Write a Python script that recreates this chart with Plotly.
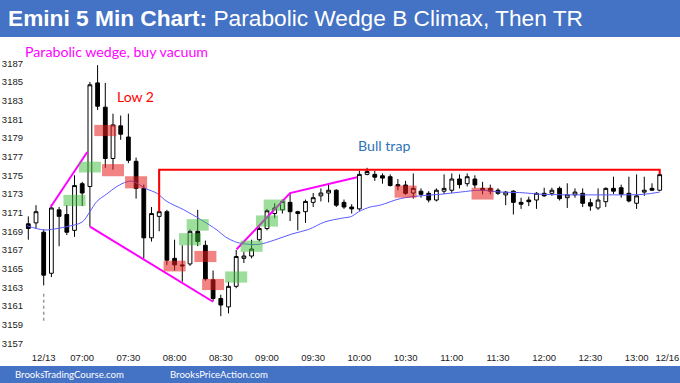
import plotly.graph_objects as go

# ---- data (bar index 0 = 06:35 of 12/13; -2,-1 are the prior session's last bars)
first_bar = -2
opens  = [3169.8, 3169.9, 3168.9, 3164.5, 3171.3, 3170.8, 3169.1, 3174.1, 3173.8, 3184.9,
          3182.3, 3176.8, 3180.3, 3179.1, 3176.5, 3173.6, 3168.3, 3170.6, 3171.1, 3166.1,
          3165.4, 3165.5, 3169.0, 3167.5, 3163.8, 3161.8, 3160.9, 3163.1, 3166.1, 3166.35,
          3168.1, 3169.3, 3170.9, 3171.3, 3172.1, 3171.1, 3171.1, 3172.1, 3172.8, 3173.1,
          3173.4, 3172.1, 3171.6, 3171.4, 3175.1, 3175.1, 3174.95, 3174.85, 3174.0, 3173.96,
          3173.1, 3173.3, 3173.07, 3172.35, 3173.3, 3173.4, 3174.6, 3174.1, 3174.6, 3173.6,
          3173.6, 3173.4, 3172.9, 3173.3, 3172.1, 3172.35, 3172.35, 3173.07, 3173.07, 3173.6,
          3172.6, 3172.9, 3173.07, 3172.06, 3171.5, 3172.17, 3173.6, 3173.67, 3173.07, 3172.0,
          3173.2, 3173.6, 3173.4]
highs  = [3170.6, 3171.8, 3169.2, 3171.9, 3171.6, 3171.8, 3175.0, 3174.3, 3185.0, 3186.8,
          3184.9, 3181.6, 3181.4, 3181.6, 3176.9, 3174.0, 3171.6, 3175.6, 3171.3, 3168.1,
          3167.5, 3169.2, 3171.3, 3168.0, 3164.8, 3162.2, 3163.6, 3167.0, 3166.8, 3168.1,
          3169.5, 3171.4, 3172.0, 3172.4, 3173.1, 3171.2, 3172.4, 3173.1, 3173.6, 3174.0,
          3173.5, 3172.4, 3171.9, 3175.5, 3175.8, 3175.5, 3175.2, 3175.1, 3174.6, 3174.4,
          3175.2, 3173.6, 3173.3, 3173.6, 3175.1, 3175.2, 3175.1, 3175.2, 3175.0, 3174.3,
          3174.0, 3173.6, 3173.3, 3173.4, 3172.6, 3172.7, 3173.2, 3173.67, 3173.67, 3173.8,
          3174.14, 3173.6, 3173.6, 3172.5, 3173.6, 3173.7, 3174.85, 3174.0, 3174.85, 3175.1,
          3174.85, 3174.14, 3175.6]
lows   = [3168.1, 3169.3, 3163.2, 3164.1, 3167.4, 3168.6, 3168.4, 3171.7, 3169.5, 3182.0,
          3175.8, 3175.6, 3178.8, 3176.3, 3172.5, 3166.1, 3167.9, 3169.0, 3165.4, 3164.8,
          3163.6, 3165.3, 3167.4, 3163.7, 3161.5, 3159.9, 3160.2, 3162.9, 3165.6, 3166.1,
          3167.9, 3169.1, 3170.4, 3170.9, 3170.1, 3169.1, 3169.9, 3171.6, 3172.2, 3172.1,
          3171.6, 3171.4, 3170.9, 3171.2, 3175.0, 3174.4, 3174.1, 3173.8, 3173.4, 3172.9,
          3172.5, 3172.6, 3172.1, 3172.2, 3173.0, 3173.1, 3173.6, 3173.8, 3173.6, 3172.96,
          3172.96, 3172.9, 3171.8, 3170.8, 3171.4, 3171.7, 3171.4, 3172.7, 3172.8, 3172.3,
          3171.5, 3172.6, 3171.6, 3171.2, 3171.3, 3171.6, 3173.0, 3172.6, 3172.1, 3171.4,
          3172.8, 3173.35, 3173.3]
closes = [3169.3, 3171.1, 3164.3, 3171.5, 3170.6, 3168.9, 3173.9, 3173.1, 3184.7, 3182.4,
          3176.8, 3180.4, 3179.4, 3176.6, 3173.6, 3168.3, 3170.9, 3171.1, 3165.9, 3165.4,
          3165.3, 3169.0, 3167.9, 3163.9, 3161.8, 3161.1, 3163.1, 3166.3, 3166.35, 3167.1,
          3169.3, 3171.2, 3171.5, 3172.2, 3171.1, 3170.9, 3172.2, 3172.6, 3173.1, 3173.4,
          3171.8, 3171.6, 3171.4, 3175.1, 3175.4, 3174.8, 3174.7, 3173.9, 3173.85, 3173.07,
          3173.6, 3172.96, 3172.35, 3173.4, 3173.6, 3174.6, 3174.0, 3174.85, 3173.96, 3173.4,
          3173.3, 3173.07, 3173.2, 3172.1, 3171.9, 3172.17, 3173.07, 3172.8, 3173.4, 3172.5,
          3172.9, 3173.2, 3172.0, 3171.7, 3172.35, 3173.6, 3173.3, 3172.96, 3172.25, 3172.8,
          3173.4, 3173.4, 3175.07]

# 20-bar EMA at these bar positions
ema_bars   = [-2.2, 0, 1, 3, 5, 6, 6.9, 8.2, 9.5, 10.8, 11.6, 13.2, 14.7, 16, 18.2, 20.5,
              22.5, 23.6, 24.8, 25.7, 27.9, 30, 32.2, 34.4, 36.5, 38.7, 40, 40.9, 42.4,
              43.7, 46.3, 48.9, 51.5, 54.1, 56.7, 59.3, 61.8, 64.9, 69.2, 73.5, 77.9, 80]
ema_values = [3169.6, 3169.14, 3169.2, 3169.5, 3170.0, 3171.1, 3172.2, 3173.0, 3173.8, 3174.3,
              3174.35, 3173.6, 3173.07, 3172.2, 3171.3, 3170.2, 3169.14, 3168.4, 3167.9,
              3167.7, 3167.6, 3168.07, 3168.7, 3169.2, 3170.0, 3170.4, 3170.6, 3171.1, 3171.6,
              3171.8, 3172.5, 3172.8, 3172.96, 3173.2, 3173.4, 3173.2, 3173.15, 3172.96,
              3172.9, 3172.9, 3172.96, 3173.2]

# annotation lines (bar position, price)
wedge_up1_bars, wedge_up1_prices = [0.9, 5.66], [3171.6, 3177.5]
wedge_down_bars, wedge_down_prices = [6.0, 22.0], [3169.5, 3161.45]
wedge_up2_bars, wedge_up2_prices = [25.05, 32.0, 40.7], [3167.07, 3173.1, 3174.8]
trap_bars, trap_prices = [15, 15, 80, 80], [3171.1, 3175.6, 3175.6, 3175.1]
day_sep_bar, day_sep_prices = 0, [3162.3, 3159.3]

# signal boxes
green_bars = [4, 6, 19, 20, 25, 27, 29, 30]
green_low  = [3171.7, 3175.3, 3167.5, 3169.06, 3163.5, 3166.8, 3169.5, 3171.2]
green_high = [3172.9, 3176.46, 3168.8, 3170.3, 3164.7, 3168.0, 3170.7, 3172.4]
red_bars = [8, 9, 12, 17, 21, 22, 47, 57]
red_low  = [3179.2, 3174.9, 3173.6, 3164.7, 3165.7, 3162.7, 3172.6, 3172.4]
red_high = [3180.4, 3176.2, 3174.9, 3165.85, 3166.9, 3163.9, 3173.9, 3173.67]

tick_bars = [0, 5, 11, 17, 23, 29, 35, 41, 47, 53, 59, 65, 71, 77, 81]
tick_labels = ["12/13", "07:00", "07:30", "08:00", "08:30", "09:00", "09:30", "10:00",
               "10:30", "11:00", "11:30", "12:00", "12:30", "13:00", "12/16"]
price_ticks = list(range(3157, 3188, 2))

bars = [first_bar + i for i in range(len(opens))]

fig = go.Figure()
fig.add_trace(go.Candlestick(
    x=bars, open=opens, high=highs, low=lows, close=closes,
    increasing=dict(line=dict(color="black", width=1), fillcolor="white"),
    decreasing=dict(line=dict(color="black", width=1), fillcolor="black"),
    whiskerwidth=0, hoverinfo="skip", showlegend=False))
fig.add_trace(go.Scatter(x=ema_bars, y=ema_values, mode="lines",
                         line=dict(color="rgb(90,90,255)", width=1, shape="spline"),
                         hoverinfo="skip", showlegend=False))
for bx, py in [(wedge_up1_bars, wedge_up1_prices), (wedge_down_bars, wedge_down_prices),
               (wedge_up2_bars, wedge_up2_prices)]:
    fig.add_trace(go.Scatter(x=bx, y=py, mode="lines", line=dict(color="#FF00FF", width=2),
                             hoverinfo="skip", showlegend=False))
fig.add_trace(go.Scatter(x=trap_bars, y=trap_prices, mode="lines",
                         line=dict(color="#FF0000", width=2), hoverinfo="skip", showlegend=False))
fig.add_trace(go.Scatter(x=[day_sep_bar, day_sep_bar], y=day_sep_prices, mode="lines",
                         line=dict(color="#999999", width=1.5, dash="dot"),
                         hoverinfo="skip", showlegend=False))

shapes = []
for b, lo, hi in zip(green_bars, green_low, green_high):
    shapes.append(dict(type="rect", xref="x", yref="y", x0=b - 1.43, x1=b + 1.43, y0=lo, y1=hi,
                       fillcolor="rgba(60,190,60,0.5)", line=dict(width=0), layer="above"))
for b, lo, hi in zip(red_bars, red_low, red_high):
    shapes.append(dict(type="rect", xref="x", yref="y", x0=b - 1.43, x1=b + 1.43, y0=lo, y1=hi,
                       fillcolor="rgba(232,30,30,0.55)", line=dict(width=0), layer="above"))
# header / footer bands
shapes.append(dict(type="rect", xref="paper", yref="paper", x0=-0.1, x1=1.1, y0=1.0097, y1=1.2,
                   fillcolor="#4472C4", line=dict(width=0), layer="below"))
shapes.append(dict(type="rect", xref="paper", yref="paper", x0=-0.1, x1=1.1, y0=-0.0516, y1=-0.2,
                   fillcolor="#4472C4", line=dict(width=0), layer="below"))

annotations = [
    dict(xref="paper", yref="paper", x=-0.028, y=1.0694, xanchor="left", yanchor="middle",
         text="<b>Emini 5 Min Chart:</b> Parabolic Wedge B Climax, Then TR", showarrow=False,
         font=dict(family="Liberation Sans, Arial", size=22.7, color="white")),
    dict(xref="paper", yref="paper", x=-0.017, y=-0.0806, xanchor="left", yanchor="middle",
         text="BrooksTradingCourse.com", showarrow=False,
         font=dict(family="Lato, Open Sans", size=9.6, color="white")),
    dict(xref="paper", yref="paper", x=0.2226, y=-0.0806, xanchor="left", yanchor="middle",
         text="BrooksPriceAction.com", showarrow=False,
         font=dict(family="Lato, Open Sans", size=9.6, color="white")),
    dict(x=9.45, y=3188.24, text="Parabolic wedge, buy vacuum", showarrow=False,
         font=dict(family="Lato, Open Sans", size=14.2, color="#FF00FF")),
    dict(x=11.9, y=3183.4, text="Low 2", showarrow=False,
         font=dict(family="Lato, Open Sans", size=14, color="#FF0000")),
    dict(x=44.26, y=3178.14, text="Bull trap", showarrow=False,
         font=dict(family="Lato, Open Sans", size=14.2, color="#2E75B6")),
]

fig.update_layout(
    width=680, height=383, margin=dict(l=24, r=9, t=40, b=33, autoexpand=False),
    paper_bgcolor="white", plot_bgcolor="white",
    shapes=shapes, annotations=annotations, showlegend=False,
    xaxis=dict(range=[-2.558, 81.47], tickmode="array", tickvals=tick_bars, ticktext=tick_labels,
               automargin=False, showgrid=False, zeroline=False, showline=False, ticks="",
               rangeslider=dict(visible=False),
               tickfont=dict(family="Liberation Sans, Arial", size=9.5, color="#222")),
    yaxis=dict(range=[3156.28, 3189.497], tickmode="array", tickvals=price_ticks,
               automargin=False, showgrid=False, zeroline=False, showline=False, ticks="",
               tickfont=dict(family="Liberation Sans, Arial", size=9.5, color="#222")),
)

fig.write_html("out.html", config={"displayModeBar": False},
               post_script="document.body.style.margin='0';document.body.style.padding='0';")
